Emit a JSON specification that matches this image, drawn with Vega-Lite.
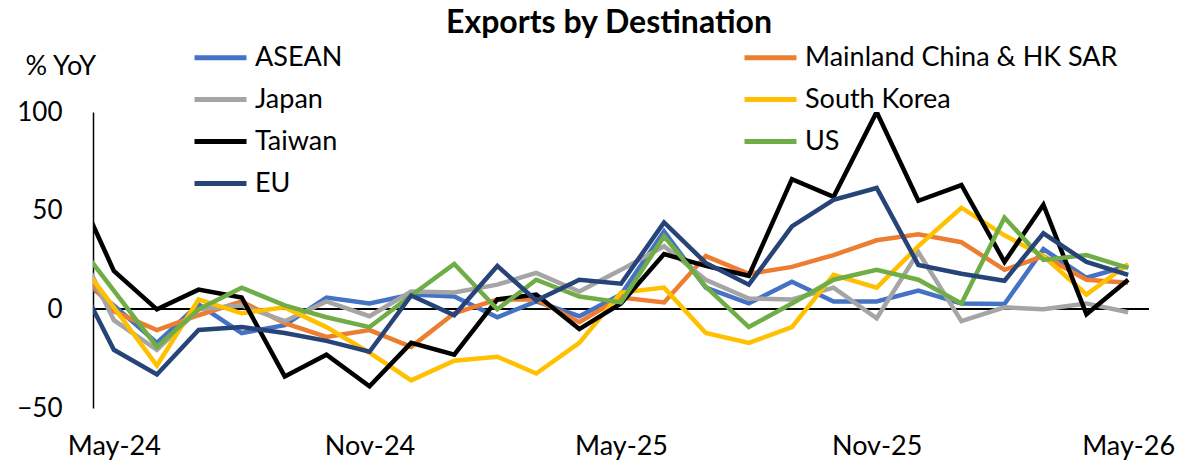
{
  "$schema": "https://vega.github.io/schema/vega-lite/v6.json",
  "width": 1056,
  "height": 296,
  "autosize": {"type": "none"},
  "padding": {"left": 93, "top": 112, "right": 53, "bottom": 57},
  "background": "white",
  "title": {"text": "Exports by Destination", "font": "Lato", "fontSize": 32, "fontWeight": "bold", "color": "black", "anchor": "middle", "frame": "group", "dx": -12, "offset": -11},
  "config": {
    "view": {"stroke": null},
    "font": "Lato"
  },
  "data": {
    "values": [
      {"m": "2024-04-01", "ASEAN": 19, "Mainland China & HK SAR": 25, "Japan": 38, "South Korea": 29, "Taiwan": 66, "US": 37, "EU": 21},
      {"m": "2024-05-01", "ASEAN": 2, "Mainland China & HK SAR": -1, "Japan": -5.5, "South Korea": 1, "Taiwan": 19.5, "US": 9.5, "EU": -20.5},
      {"m": "2024-06-01", "ASEAN": -17, "Mainland China & HK SAR": -10.5, "Japan": -20.5, "South Korea": -28.5, "Taiwan": 0, "US": -19, "EU": -33},
      {"m": "2024-07-01", "ASEAN": 2.5, "Mainland China & HK SAR": -3, "Japan": 0, "South Korea": 5, "Taiwan": 10, "US": 0, "EU": -10.5},
      {"m": "2024-08-01", "ASEAN": -12, "Mainland China & HK SAR": 4, "Japan": 2, "South Korea": -2, "Taiwan": 6, "US": 11, "EU": -9},
      {"m": "2024-09-01", "ASEAN": -8, "Mainland China & HK SAR": -7, "Japan": -6, "South Korea": 1, "Taiwan": -34, "US": 2, "EU": -12},
      {"m": "2024-10-01", "ASEAN": 6, "Mainland China & HK SAR": -14, "Japan": 4, "South Korea": -9, "Taiwan": -23, "US": -4, "EU": -16},
      {"m": "2024-11-01", "ASEAN": 3, "Mainland China & HK SAR": -10.5, "Japan": -3.5, "South Korea": -22, "Taiwan": -39, "US": -9, "EU": -21.5},
      {"m": "2024-12-01", "ASEAN": 7.5, "Mainland China & HK SAR": -19, "Japan": 9, "South Korea": -36, "Taiwan": -17, "US": 7, "EU": 7},
      {"m": "2025-01-01", "ASEAN": 6.5, "Mainland China & HK SAR": -2, "Japan": 8.5, "South Korea": -26, "Taiwan": -23, "US": 23, "EU": -3},
      {"m": "2025-02-01", "ASEAN": -4, "Mainland China & HK SAR": 5, "Japan": 12.5, "South Korea": -24, "Taiwan": 5, "US": 0, "EU": 22},
      {"m": "2025-03-01", "ASEAN": 4, "Mainland China & HK SAR": 5, "Japan": 18.5, "South Korea": -32.5, "Taiwan": 7.5, "US": 15, "EU": 4.5},
      {"m": "2025-04-01", "ASEAN": -3.5, "Mainland China & HK SAR": -6.5, "Japan": 9, "South Korea": -17, "Taiwan": -10, "US": 6.5, "EU": 15},
      {"m": "2025-05-01", "ASEAN": 7.5, "Mainland China & HK SAR": 6, "Japan": 20, "South Korea": 8.5, "Taiwan": 3, "US": 3.5, "EU": 13},
      {"m": "2025-06-01", "ASEAN": 39.5, "Mainland China & HK SAR": 3.5, "Japan": 32, "South Korea": 11, "Taiwan": 28, "US": 37, "EU": 44},
      {"m": "2025-07-01", "ASEAN": 11, "Mainland China & HK SAR": 27, "Japan": 15, "South Korea": -12, "Taiwan": 22, "US": 11.5, "EU": 23.5},
      {"m": "2025-08-01", "ASEAN": 3, "Mainland China & HK SAR": 18, "Japan": 5.5, "South Korea": -17, "Taiwan": 17, "US": -9, "EU": 12.5},
      {"m": "2025-09-01", "ASEAN": 14, "Mainland China & HK SAR": 21.5, "Japan": 5, "South Korea": -9, "Taiwan": 66, "US": 3, "EU": 42},
      {"m": "2025-10-01", "ASEAN": 4, "Mainland China & HK SAR": 27.5, "Japan": 11, "South Korea": 17.5, "Taiwan": 57, "US": 15, "EU": 55.5},
      {"m": "2025-11-01", "ASEAN": 4, "Mainland China & HK SAR": 35, "Japan": -4.5, "South Korea": 11, "Taiwan": 100, "US": 20, "EU": 61.5},
      {"m": "2025-12-01", "ASEAN": 9.5, "Mainland China & HK SAR": 38, "Japan": 29, "South Korea": 32, "Taiwan": 55, "US": 15, "EU": 22.5},
      {"m": "2026-01-01", "ASEAN": 3, "Mainland China & HK SAR": 34, "Japan": -6, "South Korea": 51.5, "Taiwan": 63, "US": 3, "EU": 18},
      {"m": "2026-02-01", "ASEAN": 2.7, "Mainland China & HK SAR": 20, "Japan": 1, "South Korea": 37.5, "Taiwan": 24, "US": 46.5, "EU": 14.5},
      {"m": "2026-03-01", "ASEAN": 30.5, "Mainland China & HK SAR": 27, "Japan": 0, "South Korea": 27, "Taiwan": 53, "US": 25, "EU": 38.5},
      {"m": "2026-04-01", "ASEAN": 16, "Mainland China & HK SAR": 15, "Japan": 3, "South Korea": 7.5, "Taiwan": -2.5, "US": 27.5, "EU": 24},
      {"m": "2026-05-01", "ASEAN": 22, "Mainland China & HK SAR": 13.5, "Japan": -1.5, "South Korea": 23, "Taiwan": 15, "US": 21, "EU": 17.5}
    ]
  },
  "transform": [
    {"fold": ["ASEAN", "Mainland China & HK SAR", "Japan", "South Korea", "Taiwan", "US", "EU"], "as": ["series", "value"]}
  ],
  "layer": [
    {
      "mark": {"type": "rule", "color": "black", "strokeWidth": 1.5},
      "encoding": {"y": {"datum": 0, "type": "quantitative", "scale": {"domain": [-50, 100]}}}
    },
    {
      "mark": {"type": "line", "strokeWidth": 4.5, "clip": true},
      "encoding": {
        "x": {
          "field": "m", "type": "temporal",
          "scale": {"type": "utc", "domain": [{"year": 2024, "month": 4, "date": 16, "utc": true}, {"year": 2026, "month": 5, "date": 16, "utc": true}]},
          "axis": {
            "title": null, "format": "%b-%y",
            "values": [{"year": 2024, "month": 5, "date": 1, "utc": true}, {"year": 2024, "month": 11, "date": 1, "utc": true}, {"year": 2025, "month": 5, "date": 1, "utc": true}, {"year": 2025, "month": 11, "date": 1, "utc": true}, {"year": 2026, "month": 5, "date": 1, "utc": true}],
            "domain": false, "ticks": false, "grid": false,
            "labelFont": "Lato", "labelFontSize": 27, "labelColor": "black", "labelPadding": 25, "labelBaseline": "top"
          }
        },
        "y": {
          "field": "value", "type": "quantitative",
          "scale": {"domain": [-50, 100], "nice": false},
          "axis": {
            "values": [-50, 0, 50, 100], "grid": false, "ticks": false,
            "domain": true, "domainColor": "black", "domainWidth": 1.5,
            "labelFont": "Lato", "labelFontSize": 26, "labelColor": "black", "labelPadding": 31,
            "title": "% YoY", "titleFont": "Lato", "titleFontSize": 27, "titleFontWeight": "normal", "titleColor": "black",
            "titleAngle": 0, "titleAlign": "left", "titleBaseline": "middle", "titleX": -68, "titleY": -46
          }
        },
        "color": {
          "field": "series", "type": "nominal",
          "scale": {
            "domain": ["ASEAN", "Mainland China & HK SAR", "Japan", "South Korea", "Taiwan", "US", "EU"],
            "range": ["#4472C4", "#ED7D31", "#A5A5A5", "#FFC000", "#000000", "#70AD47", "#264478"]
          },
          "legend": {
            "title": null, "orient": "none", "direction": "horizontal", "legendX": 99, "legendY": -83, "columns": 2, "columnPadding": 391, "rowPadding": -10,
            "symbolType": "stroke", "symbolSize": 2704, "symbolStrokeWidth": 5, "labelLimit": 500,
            "labelFont": "Lato", "labelFontSize": 27, "labelColor": "black", "labelOffset": 6
          }
        }
      }
    }
  ]
}
